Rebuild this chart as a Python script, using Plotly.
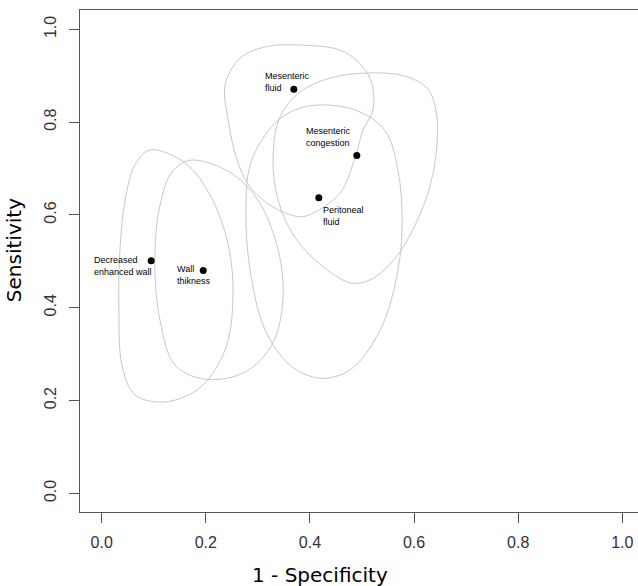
import plotly.graph_objects as go

# Study points (1 - specificity, sensitivity)
labels = ["Mesenteric<br>fluid", "Mesenteric<br>congestion", "Peritoneal<br>fluid",
          "Decreased<br>enhanced wall", "Wall<br>thikness"]
fpr = [0.369, 0.490, 0.417, 0.095, 0.195]
sens = [0.871, 0.728, 0.637, 0.501, 0.480]

# Confidence region outlines
reg_dew_x = [0.093, 0.160, 0.208, 0.243, 0.252, 0.237, 0.189, 0.122, 0.064, 0.039, 0.033, 0.035, 0.045, 0.064]
reg_dew_y = [0.740, 0.712, 0.643, 0.536, 0.417, 0.309, 0.228, 0.197, 0.212, 0.276, 0.395, 0.524, 0.632, 0.708]

reg_wt_x = [0.170, 0.246, 0.300, 0.339, 0.348, 0.327, 0.275, 0.199, 0.141, 0.112, 0.102, 0.112, 0.135]
reg_wt_y = [0.718, 0.692, 0.632, 0.524, 0.417, 0.320, 0.261, 0.246, 0.276, 0.373, 0.503, 0.621, 0.692]

reg_mf_x = [0.381, 0.467, 0.515, 0.521, 0.502, 0.487, 0.458, 0.406, 0.381, 0.329, 0.285, 0.260, 0.243, 0.237, 0.266, 0.314]
reg_mf_y = [0.966, 0.951, 0.895, 0.826, 0.783, 0.725, 0.647, 0.604, 0.596, 0.617, 0.660, 0.718, 0.805, 0.880, 0.938, 0.962]

reg_mc_x = [0.342, 0.381, 0.439, 0.515, 0.583, 0.625, 0.642, 0.644, 0.631, 0.602, 0.564, 0.519, 0.481, 0.429, 0.371, 0.339, 0.329]
reg_mc_y = [0.810, 0.865, 0.895, 0.906, 0.899, 0.873, 0.826, 0.751, 0.664, 0.578, 0.507, 0.462, 0.453, 0.485, 0.552, 0.632, 0.718]

reg_pf_x = [0.406, 0.487, 0.544, 0.569, 0.577, 0.569, 0.535, 0.477, 0.419, 0.362, 0.314, 0.285, 0.277, 0.285, 0.314, 0.352]
reg_pf_y = [0.836, 0.826, 0.782, 0.696, 0.589, 0.481, 0.352, 0.266, 0.248, 0.276, 0.352, 0.481, 0.610, 0.707, 0.772, 0.815]

regions = [(reg_dew_x, reg_dew_y), (reg_wt_x, reg_wt_y), (reg_mf_x, reg_mf_y),
           (reg_mc_x, reg_mc_y), (reg_pf_x, reg_pf_y)]

# label offsets in pixels (left edge, vertical centre) relative to the point
label_shift = [(-31, 7), (-53, 19), (2, -18), (-59, -5), (-28, -4)]

fig = go.Figure()
for rx, ry in regions:
    fig.add_trace(go.Scatter(x=rx + rx[:1], y=ry + ry[:1], mode="lines",
                             line=dict(color="#c8c8c8", width=1, shape="spline", smoothing=1.0),
                             hoverinfo="skip", showlegend=False))

fig.add_trace(go.Scatter(x=fpr, y=sens, mode="markers",
                         marker=dict(color="black", size=7), showlegend=False))

for lab, xv, yv, (dx, dy) in zip(labels, fpr, sens, label_shift):
    fig.add_annotation(x=xv, y=yv, text=lab, showarrow=False, xanchor="left", yanchor="middle",
                       align="left", xshift=dx, yshift=dy,
                       font=dict(family="Liberation Sans", size=9, color="black"))

axis_common = dict(showline=True, linecolor="#555555", linewidth=1.3, ticks="outside",
                   ticklen=10, tickcolor="#555555", tickwidth=1, showgrid=False, zeroline=False,
                   tickformat=".1f", tickfont=dict(family="Liberation Sans", size=16, color="#333333"))

fig.update_xaxes(range=[-0.0417, 1.0301], tickvals=[0, 0.2, 0.4, 0.6, 0.8, 1.0], mirror=True,
                 ticklabelstandoff=6, **axis_common)
fig.update_yaxes(range=[-0.0403, 1.0416], tickvals=[0, 0.2, 0.4, 0.6, 0.8, 1.0], tickangle=-90,
                 ticklabelstandoff=6, **axis_common)

fig.add_annotation(text="1 - Specificity", xref="paper", yref="paper", x=(320 - 80) / 558, y=-0.125,
                   xanchor="center", yanchor="middle", showarrow=False,
                   font=dict(family="DejaVu Sans", size=20, color="black"))
fig.add_annotation(text="Sensitivity", xref="paper", yref="paper", x=-0.118, y=(512 - 250) / 502,
                   xanchor="center", yanchor="middle", showarrow=False, textangle=-90,
                   font=dict(family="DejaVu Sans", size=20, color="black"))

fig.update_layout(width=638, height=586, margin=dict(l=80, r=0, t=10, b=74),
                  plot_bgcolor="white", paper_bgcolor="white")

fig.write_html("out.html")
